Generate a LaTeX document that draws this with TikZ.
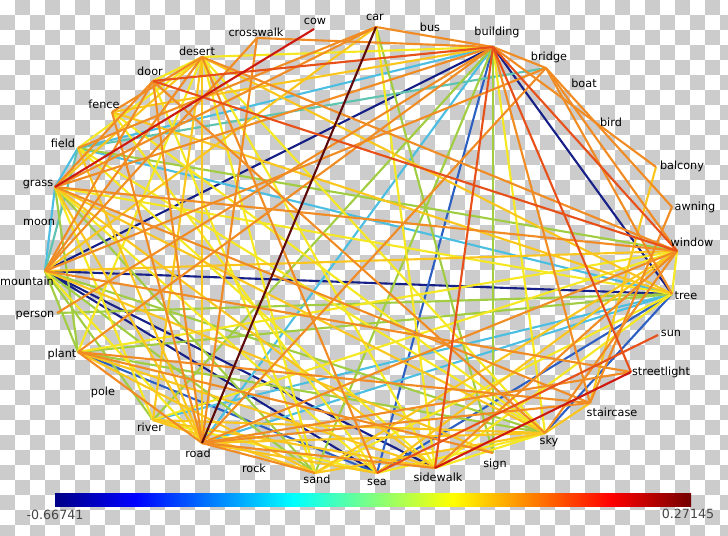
\documentclass[tikz,border=0pt]{standalone}
\usepackage{fontspec}
\setmainfont{DejaVu Sans}
\usepackage{xcolor}
\usepackage{tikz}
\usetikzlibrary{positioning}

% edge colours (jet map)
\definecolor{jdb}{RGB}{22,32,135}
\definecolor{jb}{RGB}{45,95,195}
\definecolor{jc}{RGB}{75,190,225}
\definecolor{jt}{RGB}{95,195,175}
\definecolor{jg}{RGB}{160,205,65}
\definecolor{jy}{RGB}{245,232,35}
\definecolor{jyo}{RGB}{250,198,30}
\definecolor{jo}{RGB}{240,140,35}
\definecolor{jr}{RGB}{232,80,25}
\definecolor{jrr}{RGB}{205,25,15}
\definecolor{jdr}{RGB}{95,10,10}
\definecolor{chk}{RGB}{204,204,204}
\definecolor{barlbl}{RGB}{70,70,70}
% colour bar stops
\definecolor{jet0}{RGB}{0,0,135}
\definecolor{jet1}{RGB}{0,0,255}
\definecolor{jet2}{RGB}{0,255,255}
\definecolor{jet3}{RGB}{255,255,0}
\definecolor{jet4}{RGB}{255,0,0}
\definecolor{jet5}{RGB}{115,0,0}
\pgfdeclarehorizontalshading{jetbar}{100bp}{color(0bp)=(jet0); color(25bp)=(jet0);
  color(31.25bp)=(jet1); color(43.75bp)=(jet2); color(56.25bp)=(jet3);
  color(68.75bp)=(jet4); color(75bp)=(jet5); color(100bp)=(jet5)}

\begin{document}
\begin{tikzpicture}[x=0.025cm, y=-0.025cm, font=\fontsize{8}{9.6}\selectfont,
  edge/.style={line width=1.5pt},
  lbl/.style={inner sep=0pt, text=black}]
  \useasboundingbox (0,0) rectangle (728,536);
  % Checked background
  \begin{scope}
    \clip (0,0) rectangle (728,536);
    \fill[white] (0,0) rectangle (728,536);
    \foreach \i in {0,...,48} {
      \foreach \j in {0,...,35} {
        \pgfmathtruncatemacro{\odd}{mod(\i+\j,2)}
        \ifnum\odd=1 \fill[chk] (\i*15,\j*15) rectangle ++(15,15); \fi
      }
    }
  \end{scope}
  % Vertices
  \coordinate (cow)         at (314,29);
  \coordinate (crosswalk)   at (257,38);
  \coordinate (desert)      at (202,57);
  \coordinate (door)        at (153,81);
  \coordinate (fence)       at (112,112);
  \coordinate (field)       at (78,148);
  \coordinate (grass)       at (55,187);
  \coordinate (mountain)    at (45,271);
  \coordinate (person)      at (57,313);
  \coordinate (plant)       at (78,352);
  \coordinate (river)       at (153,420);
  \coordinate (road)        at (202,443);
  \coordinate (sand)        at (315,473);
  \coordinate (sea)         at (377,473);
  \coordinate (sidewalk)    at (435,468);
  \coordinate (sign)        at (493,453);
  \coordinate (sky)         at (545,433);
  \coordinate (staircase)   at (590,403);
  \coordinate (streetlight) at (631,372);
  \coordinate (sun)         at (658,335);
  \coordinate (tree)        at (672,294);
  \coordinate (window)      at (677,251);
  \coordinate (awning)      at (672,207);
  \coordinate (balcony)     at (656,167);
  \coordinate (bridge)      at (546,68);
  \coordinate (building)    at (493,47);
  \coordinate (car)         at (376,27);
  % Edges, low values first
  \foreach \a/\b in {building/mountain, mountain/tree, building/tree,
      mountain/sea, mountain/sidewalk}
    \draw[edge, jdb] (\a) -- (\b);
  \foreach \a/\b in {building/sea, plant/sea, tree/sky, sea/tree}
    \draw[edge, jb] (\a) -- (\b);
  \foreach \a/\b in {building/field, field/tree, road/tree, road/building,
      grass/mountain, grass/field, river/tree}
    \draw[edge, jc] (\a) -- (\b);
  \foreach \a/\b in {field/bridge, field/mountain}
    \draw[edge, jt] (\a) -- (\b);
  \foreach \a/\b in {building/river, building/sand, building/sign, plant/tree,
      mountain/sky, mountain/sand, mountain/river, mountain/plant, plant/sky,
      grass/sand, field/window, tree/person, car/sign, grass/plant}
    \draw[edge, jg] (\a) -- (\b);
  \foreach \a/\b in {building/desert, building/sky, desert/field, desert/plant,
      desert/sand, desert/sidewalk, desert/sky, desert/door, field/sky,
      field/sidewalk, grass/tree, grass/sea, grass/river, mountain/road,
      plant/window, river/sea, river/window, sand/tree, sea/sky, sidewalk/sky,
      sidewalk/tree, tree/window, door/sand, fence/sea, car/sidewalk, fence/sky}
    \draw[edge, jy] (\a) -- (\b);
  \foreach \a/\b in {building/fence, desert/grass, desert/road, desert/tree,
      field/road, grass/sky, grass/road, grass/sidewalk, mountain/window,
      mountain/sign, plant/sidewalk, river/sky, river/sand, road/sky, sand/sky,
      tree/fence, sky/staircase, balcony/staircase, desert/river, road/sea,
      sand/window, sea/window, plant/sand, river/sidewalk, mountain/car}
    \draw[edge, jyo] (\a) -- (\b);
  \foreach \a/\b in {building/car, building/crosswalk, building/grass,
      building/plant, building/staircase, building/balcony, building/bridge,
      building/person, desert/fence, desert/mountain, desert/sea,
      desert/window, door/grass, door/mountain, door/road, door/sky, fence/road,
      field/car, grass/window, grass/car, grass/staircase,
      mountain/crosswalk, mountain/streetlight, mountain/bridge,
      plant/road, plant/sign, plant/staircase,
      road/sidewalk, road/sand, road/window, road/crosswalk,
      road/streetlight, road/staircase, road/bridge,
      sidewalk/window, sky/window, window/bridge, awning/staircase,
      awning/bridge, bridge/tree}
    \draw[edge, jo] (\a) -- (\b);
  \foreach \a/\b in {building/door, building/streetlight, building/window,
      door/window, sea/sun, building/sidewalk}
    \draw[edge, jr] (\a) -- (\b);
  \foreach \a/\b in {cow/grass, sidewalk/streetlight}
    \draw[edge, jrr] (\a) -- (\b);
  \draw[edge, jdr] (car) -- (road);
  % Labels
  \node[lbl] (cow-l)         at (315,21)  {cow};
  \node[lbl] (crosswalk-l)   at (256,32)  {crosswalk};
  \node[lbl] (desert-l)      at (197,51)  {desert};
  \node[lbl] (door-l)        at (150,71)  {door};
  \node[lbl] (fence-l)       at (104,104) {fence};
  \node[lbl] (field-l)       at (63,143)  {field};
  \node[lbl] (grass-l)       at (38,185)  {grass};
  \node[lbl] (moon-l)        at (39,222)  {moon};
  \node[lbl] (mountain-l)    at (27,281)  {mountain};
  \node[lbl] (person-l)      at (35,316)  {person};
  \node[lbl] (plant-l)       at (62,354)  {plant};
  \node[lbl] (pole-l)        at (103,392) {pole};
  \node[lbl] (river-l)       at (150,427) {river};
  \node[lbl] (road-l)        at (198,453) {road};
  \node[lbl] (rock-l)        at (254,468) {rock};
  \node[lbl] (sand-l)        at (317,479) {sand};
  \node[lbl] (sea-l)         at (377,482) {sea};
  \node[lbl] (sidewalk-l)    at (438,477) {sidewalk};
  \node[lbl] (sign-l)        at (495,464) {sign};
  \node[lbl] (sky-l)         at (549,441) {sky};
  \node[lbl] (staircase-l)   at (612,412) {staircase};
  \node[lbl] (streetlight-l) at (661,372) {streetlight};
  \node[lbl] (sun-l)         at (671,333) {sun};
  \node[lbl] (tree-l)        at (686,296) {tree};
  \node[lbl] (window-l)      at (692,242) {window};
  \node[lbl] (awning-l)      at (695,207) {awning};
  \node[lbl] (balcony-l)     at (682,166) {balcony};
  \node[lbl] (bird-l)        at (611,122) {bird};
  \node[lbl] (boat-l)        at (584,83)  {boat};
  \node[lbl] (bridge-l)      at (549,57)  {bridge};
  \node[lbl] (building-l)    at (497,32)  {building};
  \node[lbl] (bus-l)         at (430,27)  {bus};
  \node[lbl] (car-l)         at (375,17)  {car};
  % Colour bar
  \shade[shading=jetbar] (55,493) rectangle (691,506);
  \node[lbl, text=barlbl, font=\fontsize{9}{10}\selectfont] (barmin) at (55,515) {-0.66741};
  \node[lbl, text=barlbl, font=\fontsize{9}{10}\selectfont] (barmax) at (688,514) {0.27145};
\end{tikzpicture}
\end{document}
